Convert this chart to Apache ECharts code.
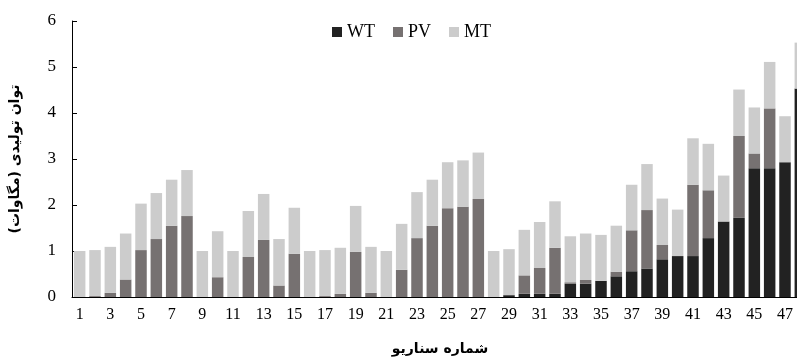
<!DOCTYPE html>
<html>
<head>
<meta charset="utf-8">
<title>Scenario power</title>
<script src="https://cdn.jsdelivr.net/npm/echarts@6/dist/echarts.min.js"></script>
<style>
  html, body { margin: 0; padding: 0; background: #fff; overflow: hidden; }
  #main { width: 808px; height: 361px; }
</style>
</head>
<body>
<div id="main"></div>
<script>
// scenario numbers (the 48th one is cut off at the right edge)
var scenarios = ['1','2','3','4','5','6','7','8','9','10','11','12','13','14','15','16',
  '17','18','19','20','21','22','23','24','25','26','27','28','29','30','31','32',
  '33','34','35','36','37','38','39','40','41','42','43','44','45','46','47','48'];

var wt = [0,0,0,0,0,0,0,0,0,0,0,0,0,0,0,0,
  0,0,0,0,0,0,0,0,0,0,0,0,0.04,0.07,0.07,0.07,
  0.29,0.29,0.35,0.45,0.56,0.62,0.82,0.89,0.89,1.28,1.64,1.72,2.80,2.80,2.93,4.53];

var pv = [0,0.02,0.09,0.38,1.02,1.26,1.55,1.76,0,0.43,0,0.87,1.24,0.25,0.94,0,
  0.02,0.07,0.98,0.09,0,0.59,1.28,1.55,1.93,1.96,2.13,0,0,0.40,0.56,1.00,
  0.03,0.08,0,0.10,0.89,1.27,0.31,0,1.55,1.04,0,1.78,0.32,1.30,0,0];

var mt = [1.0,1.0,1.0,1.0,1.01,1.0,1.0,1.0,1.0,1.0,1.0,1.0,1.0,1.01,1.0,1.0,
  1.0,1.0,1.0,1.0,1.0,1.0,1.0,1.0,1.0,1.01,1.01,1.0,1.0,0.99,1.0,1.01,
  1.0,1.01,1.0,1.0,0.99,1.0,1.01,1.01,1.01,1.01,1.0,1.01,1.0,1.01,1.0,1.0];

var yTicks = [0, 1, 2, 3, 4, 5, 6];

var serif = 'Liberation Serif';
var chart = echarts.init(document.getElementById('main'));

function bar(name, data, color) {
  return {
    name: name,
    type: 'bar',
    stack: 'power',
    barWidth: '75%',
    data: data,
    itemStyle: { color: color }
  };
}

chart.setOption({
  animation: false,
  legend: {
    left: 327,
    top: 18,
    icon: 'rect',
    itemWidth: 10,
    itemHeight: 10,
    itemGap: 18,
    textStyle: { fontFamily: serif, fontSize: 18, color: '#000' },
    data: ['WT', 'PV', 'MT']
  },
  grid: { left: 70, right: 0, top: 21, bottom: 57 },
  xAxis: {
    type: 'category',
    data: scenarios,
    name: 'شماره سناریو',
    nameLocation: 'middle',
    nameGap: 45,
    nameTextStyle: { fontFamily: 'DejaVu Sans', fontWeight: 'bold', fontSize: 14, color: '#000' },
    axisLine: { lineStyle: { color: '#000', width: 1 } },
    axisTick: { interval: 1, length: 4, lineStyle: { color: '#000' } },
    axisLabel: { interval: 1, margin: 10, fontFamily: serif, fontSize: 16, color: '#000' }
  },
  yAxis: {
    type: 'value',
    min: yTicks[0],
    max: yTicks[yTicks.length - 1],
    interval: 1,
    name: 'توان تولیدی (مگاوات)',
    nameLocation: 'middle',
    nameGap: 50,
    nameRotate: 90,
    nameTextStyle: { fontFamily: 'DejaVu Sans', fontWeight: 'bold', fontSize: 14, color: '#000' },
    splitLine: { show: false },
    axisLine: { show: true, lineStyle: { color: '#000', width: 1 } },
    axisTick: { show: true, inside: true, length: 5, lineStyle: { color: '#000' } },
    axisLabel: { margin: 16, fontFamily: serif, fontSize: 17, color: '#000' }
  },
  series: [
    bar('WT', wt, '#222222'),
    bar('PV', pv, '#767171'),
    bar('MT', mt, '#cccccc')
  ]
});
</script>
</body>
</html>
